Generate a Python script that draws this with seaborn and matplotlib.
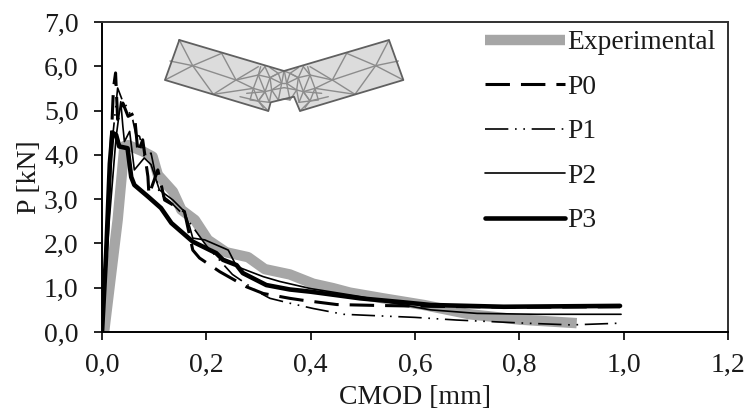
import matplotlib
matplotlib.use("Agg")
import matplotlib.pyplot as plt
import seaborn as sns
from matplotlib.lines import Line2D

exp_x = [0.004, 0.03, 0.043, 0.05, 0.078, 0.097, 0.107, 0.136, 0.152, 0.178, 0.203, 0.238, 0.28, 0.312, 0.36, 0.405, 0.443, 0.475, 0.539, 0.617, 0.705, 0.801, 0.91]
exp_y = [0.0, 2.53, 4.2, 4.22, 4.08, 3.96, 3.55, 3.17, 2.76, 2.53, 2.08, 1.8, 1.69, 1.42, 1.3, 1.09, 0.99, 0.89, 0.76, 0.61, 0.4, 0.28, 0.2]

p0_x = [0.0, 0.011, 0.022, 0.026, 0.03, 0.04, 0.05, 0.062, 0.069, 0.078, 0.088, 0.09, 0.107, 0.12, 0.158, 0.174, 0.187, 0.226, 0.277, 0.309, 0.36, 0.383, 0.45, 0.525, 0.63, 0.8, 0.993]
p0_y = [0.0, 2.53, 5.51, 5.85, 4.8, 5.17, 4.87, 4.94, 4.04, 4.34, 3.51, 3.1, 3.66, 2.98, 2.72, 1.85, 1.67, 1.36, 1.02, 0.87, 0.76, 0.72, 0.62, 0.6, 0.58, 0.56, 0.57]

p1_x = [0.0, 0.017, 0.03, 0.04, 0.047, 0.059, 0.065, 0.072, 0.081, 0.094, 0.11, 0.13, 0.16, 0.2, 0.25, 0.3, 0.322, 0.36, 0.405, 0.463, 0.54, 0.6, 0.68, 0.81, 0.9, 0.995]
p1_y = [0.0, 4.0, 5.51, 5.2, 5.1, 4.79, 4.45, 4.42, 3.96, 4.04, 3.13, 2.95, 2.6, 1.95, 1.3, 0.9, 0.76, 0.65, 0.53, 0.4, 0.36, 0.33, 0.27, 0.2, 0.16, 0.2]

p2_x = [0.0, 0.014, 0.027, 0.036, 0.04, 0.043, 0.053, 0.062, 0.081, 0.094, 0.11, 0.136, 0.158, 0.168, 0.174, 0.197, 0.242, 0.258, 0.309, 0.341, 0.4, 0.495, 0.578, 0.63, 0.719, 0.834, 0.995]
p2_y = [0.0, 2.53, 4.4, 5.2, 4.64, 4.3, 4.53, 3.66, 3.93, 3.78, 3.21, 2.98, 2.72, 2.38, 2.12, 2.08, 1.85, 1.48, 1.25, 1.14, 0.98, 0.8, 0.61, 0.5, 0.42, 0.4, 0.4]

p3_x = [0.0, 0.008, 0.015, 0.02, 0.027, 0.033, 0.049, 0.056, 0.062, 0.088, 0.113, 0.133, 0.174, 0.219, 0.232, 0.258, 0.27, 0.315, 0.36, 0.4, 0.495, 0.578, 0.63, 0.77, 0.993]
p3_y = [0.0, 1.78, 3.8, 4.5, 4.45, 4.19, 4.15, 3.5, 3.32, 3.06, 2.8, 2.46, 2.04, 1.78, 1.63, 1.51, 1.33, 1.06, 0.96, 0.91, 0.76, 0.67, 0.61, 0.57, 0.59]

x_ticks = [0.0, 0.2, 0.4, 0.6, 0.8, 1.0, 1.2]
y_ticks = [0, 1, 2, 3, 4, 5, 6, 7]

# mesh picture above the curves, left half only (mirrored for the other half)
mesh_outline = [(88, 45), (402, 138), (717, 45), (760, 165), (450, 258), (432, 215), (362, 232), (355, 258), (45, 165), (88, 45)]
mesh_edges = [
    [(88, 45), (128, 122), (45, 165)],
    [(60, 108), (128, 122), (215, 85)],
    [(215, 85), (258, 165), (190, 208)],
    [(128, 122), (190, 208)],
    [(128, 122), (258, 165), (325, 125)],
    [(190, 208), (310, 190), (258, 165)],
    [(332, 125), (325, 150), (310, 190), (325, 228), (355, 258)],
    [(325, 150), (360, 158), (345, 200), (310, 190)],
    [(345, 125), (360, 158), (385, 145), (395, 175), (365, 195), (345, 200), (325, 228)],
    [(365, 195), (360, 158)],
    [(345, 200), (358, 232)],
    [(270, 215), (325, 228)],
    [(290, 205), (345, 200)],
    [(325, 150), (258, 165)],
    [(365, 195), (402, 188)],
    [(395, 175), (402, 175)],
    [(385, 145), (402, 138), (395, 175)],
    [(360, 128), (385, 145), (360, 158), (395, 175)],
    [(325, 150), (345, 125)],
    [(325, 150), (345, 200)],
    [(310, 190), (300, 225), (325, 228)],
    [(345, 200), (325, 228), (358, 232), (365, 195)],
    [(325, 228), (340, 248)],
    [(365, 195), (385, 225)],
    [(395, 175), (385, 225), (402, 222)],
]

W, H = 747, 412
sns.set_theme(style="ticks")
plt.rcParams["font.family"] = ["Liberation Serif", "DejaVu Serif"]

fig = plt.figure(figsize=(W / 100, H / 100), dpi=100)
ax = fig.add_axes([102 / W, 1 - 332 / H, 626 / W, 310 / H])

sns.lineplot(x=exp_x, y=exp_y, sort=False, estimator=None, color="#a6a6a6", lw=7.5, ax=ax,
             solid_capstyle="butt", solid_joinstyle="round")
sns.lineplot(x=p0_x, y=p0_y, sort=False, estimator=None, color="black", lw=2.2, ax=ax)
ax.lines[-1].set_linestyle((0, (8, 3.6)))
sns.lineplot(x=p1_x, y=p1_y, sort=False, estimator=None, color="black", lw=1.2, ax=ax)
ax.lines[-1].set_linestyle((0, (14, 4, 1, 4, 1, 4)))
sns.lineplot(x=p2_x, y=p2_y, sort=False, estimator=None, color="black", lw=1.2, ax=ax)
sns.lineplot(x=p3_x, y=p3_y, sort=False, estimator=None, color="black", lw=3.3, ax=ax,
             solid_capstyle="round")

ax.set_xlim(0, 1.2)
ax.set_ylim(0, 7)
ax.set_xticks(x_ticks)
ax.set_yticks(y_ticks)
ax.set_xticklabels([f"{v:.1f}".replace(".", ",") for v in x_ticks])
ax.set_yticklabels([f"{v:.1f}".replace(".", ",") for v in y_ticks])
ax.tick_params(labelsize=20, length=5.8, width=1.2, color="black", labelcolor="#1a1a1a")
ax.tick_params(axis="x", pad=9)
ax.tick_params(axis="y", pad=11)
ax.set_xlabel("CMOD [mm]", fontsize=20, color="#1a1a1a", labelpad=5)
ax.set_ylabel("P [kN]", fontsize=20, color="#1a1a1a", labelpad=1.5)
for name, spine in ax.spines.items():
    spine.set_visible(True)
    spine.set_linewidth(1.4)
    spine.set_color("black" if name in ("left", "bottom") else "#303030")

handles = [
    Line2D([], [], color="#a6a6a6", lw=7.5, solid_capstyle="butt"),
    Line2D([], [], color="black", lw=2.2, ls=(0, (8, 3.6))),
    Line2D([], [], color="black", lw=1.2, ls=(0, (14, 4, 1, 4, 1, 4))),
    Line2D([], [], color="black", lw=1.2),
    Line2D([], [], color="black", lw=3.3, solid_capstyle="round"),
]
ax.legend(handles, ["Experimental", "P0", "P1", "P2", "P3"], loc="upper left",
          bbox_to_anchor=(485 / W, 1 - 30 / H), bbox_transform=fig.transFigure,
          frameon=False, fontsize=19.8, labelcolor="#1a1a1a", borderaxespad=0, borderpad=0,
          handlelength=2.92, handletextpad=0.06, labelspacing=0.7)

# inset with the mesh
ins = fig.add_axes([150 / W, 1 - 125 / H, 270 / W, 100 / H])
ins.set_xlim(0, 810)
ins.set_ylim(300, 0)
ins.axis("off")
ins.fill([p[0] for p in mesh_outline], [p[1] for p in mesh_outline], color="#dcdcdc", lw=0)
for mirror in (False, True):
    for edge in mesh_edges:
        xs = [805 - p[0] if mirror else p[0] for p in edge]
        ins.plot(xs, [p[1] for p in edge], color="#8c8c8c", lw=1.0)
ins.plot([p[0] for p in mesh_outline], [p[1] for p in mesh_outline], color="#606060", lw=1.3)

fig.savefig("out.png", dpi=100)
